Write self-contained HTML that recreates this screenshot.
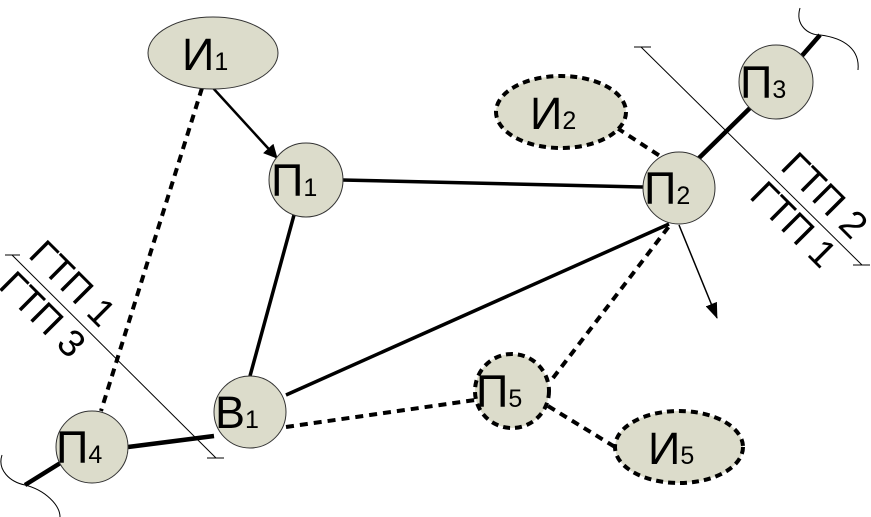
<!DOCTYPE html>
<html><head><meta charset="utf-8"><style>
html,body{margin:0;padding:0;background:#fff;}
svg{display:block;}
text{font-family:"Liberation Sans",sans-serif;fill:#000;}
</style></head><body>
<svg width="871" height="517" viewBox="0 0 871 517" xmlns="http://www.w3.org/2000/svg">
<defs>
<marker id="ah" markerWidth="14" markerHeight="14" refX="13" refY="7" orient="auto" markerUnits="userSpaceOnUse">
<path d="M0,0 L14,7 L0,14 Z" fill="#000"/></marker>
<marker id="ah2" markerWidth="16" markerHeight="12" refX="15" refY="6" orient="auto" markerUnits="userSpaceOnUse">
<path d="M0,0 L16,6 L0,12 Z" fill="#000"/></marker>
</defs>
<line x1="641" y1="47" x2="862" y2="265" stroke="#000" stroke-width="1"/>
<line x1="634" y1="47" x2="651" y2="47" stroke="#000" stroke-width="1"/>
<line x1="853" y1="265" x2="870" y2="265" stroke="#000" stroke-width="1"/>
<line x1="12" y1="255" x2="216" y2="458" stroke="#000" stroke-width="1"/>
<line x1="5" y1="255" x2="20" y2="255" stroke="#000" stroke-width="1"/>
<line x1="207" y1="458" x2="224" y2="458" stroke="#000" stroke-width="1"/>
<path d="M800,8 C795,25 808,35 820,35 C845,38 860,50 858,70" fill="none" stroke="#000" stroke-width="1"/>
<path d="M2,455 C-3,470 10,482 25,485 C45,490 60,505 60,517" fill="none" stroke="#000" stroke-width="1"/>
<line x1="342" y1="180" x2="643" y2="187" stroke="#000" stroke-width="3.5"/>
<line x1="294" y1="215" x2="250" y2="376" stroke="#000" stroke-width="3.5"/>
<line x1="286" y1="395" x2="669" y2="224" stroke="#000" stroke-width="3.5"/>
<line x1="697" y1="160" x2="750" y2="108" stroke="#000" stroke-width="4.5"/>
<line x1="800" y1="58" x2="820" y2="35" stroke="#000" stroke-width="4.5"/>
<line x1="128" y1="447" x2="214" y2="436" stroke="#000" stroke-width="4.5"/>
<line x1="62" y1="462" x2="25" y2="485" stroke="#000" stroke-width="4.5"/>
<line x1="213" y1="88" x2="277" y2="158" stroke="#000" stroke-width="2.5" marker-end="url(#ah)"/>
<line x1="679" y1="225" x2="717" y2="318" stroke="#000" stroke-width="1.5" marker-end="url(#ah2)"/>
<g stroke="#000" stroke-width="4" stroke-dasharray="8,6" fill="none">
<line x1="202" y1="88" x2="101" y2="411"/>
<line x1="286" y1="427" x2="475" y2="400"/>
<line x1="553" y1="378" x2="670" y2="225"/>
<line x1="548" y1="406" x2="615" y2="447"/>
<line x1="617" y1="128" x2="660" y2="156"/>
</g>
<g fill="#dcdccb" stroke="#333" stroke-width="1">
<ellipse cx="213" cy="53" rx="65" ry="36"/>
<circle cx="306" cy="180" r="37"/>
<circle cx="679" cy="188" r="36"/>
<circle cx="776" cy="82" r="37"/>
<circle cx="92" cy="447" r="36"/>
<circle cx="250" cy="412" r="36"/>
</g>
<g fill="#dcdccb" stroke="#000" stroke-width="4" stroke-dasharray="7,5">
<ellipse cx="561" cy="112" rx="65" ry="36"/>
<circle cx="512" cy="391" r="37"/>
<ellipse cx="679" cy="447" rx="64" ry="36"/>
</g>
<g font-size="45">
<text x="182" y="70">И<tspan font-size="25">1</tspan></text>
<text x="530" y="129">И<tspan font-size="25">2</tspan></text>
<text x="648" y="464">И<tspan font-size="25">5</tspan></text>
<text x="271" y="196">П<tspan font-size="25">1</tspan></text>
<text x="644" y="204">П<tspan font-size="25">2</tspan></text>
<text x="740" y="98">П<tspan font-size="25">3</tspan></text>
<text x="56" y="463">П<tspan font-size="25">4</tspan></text>
<text x="476" y="407">П<tspan font-size="25">5</tspan></text>
<text x="215" y="428">В<tspan font-size="25">1</tspan></text>
</g>
<g font-size="38">
<text x="824" y="196" text-anchor="middle" dominant-baseline="central" transform="rotate(45 824 196)">ГТП 2</text>
<text x="793" y="225" text-anchor="middle" dominant-baseline="central" transform="rotate(45 793 225)">ГТП 1</text>
<text x="72" y="284" text-anchor="middle" dominant-baseline="central" transform="rotate(45 72 284)">ГТП 1</text>
<text x="42" y="315" text-anchor="middle" dominant-baseline="central" transform="rotate(45 42 315)">ГТП 3</text>
</g>
</svg>
</body></html>
